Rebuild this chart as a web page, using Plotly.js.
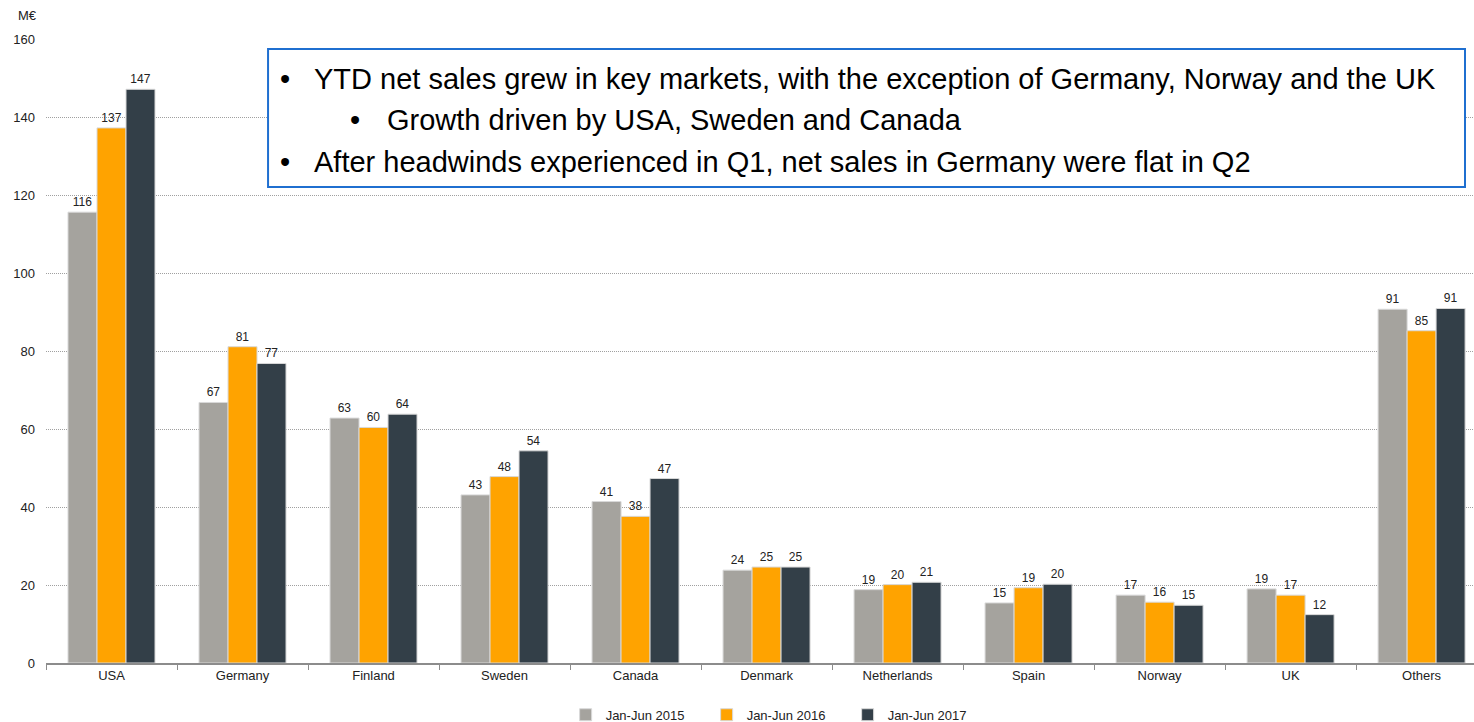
<!DOCTYPE html>
<html>
<head>
<meta charset="utf-8">
<script src="https://cdn.plot.ly/plotly-3.0.1.min.js"></script>
<style>
  body { margin: 0; background: #fff; }
  #chart { width: 1474px; height: 722px; }
</style>
</head>
<body>
<div id="chart"></div>
<script>
// markets, in the order shown
let markets = ["USA", "Germany", "Finland", "Sweden", "Canada", "Denmark", "Netherlands", "Spain", "Norway", "UK", "Others"];

// net sales, M€
let sales2015 = [115.6, 66.8, 62.8, 43.1, 41.4, 23.8, 18.8, 15.4, 17.4, 19.0, 90.7];
let sales2016 = [137.2, 81.1, 60.4, 47.8, 37.6, 24.6, 20.1, 19.3, 15.6, 17.4, 85.2];
let sales2017 = [147.1, 76.8, 63.8, 54.4, 47.3, 24.6, 20.7, 20.2, 14.8, 12.4, 90.9];

let seriesNames = ["Jan-Jun 2015", "Jan-Jun 2016", "Jan-Jun 2017"];
let seriesColors = ["#A5A39E", "#FFA300", "#333F48"];

let bullets = [
  "YTD net sales grew in key markets, with the exception of Germany, Norway and the UK",
  "Growth driven by USA, Sweden and Canada",
  "After headwinds experienced in Q1, net sales in Germany were flat in Q2"
];

let font = "Arial, 'Liberation Sans', sans-serif";

let traces = [sales2015, sales2016, sales2017].map((vals, i) => ({
  x: markets,
  y: vals,
  name: seriesNames[i],
  type: "bar",
  marker: {color: seriesColors[i], line: {color: "#d8d8d8", width: 1}},
  texttemplate: "%{y:.0f}",
  textposition: "outside",
  textfont: {size: 12, color: "#222", family: font},
  cliponaxis: false,
  hoverinfo: "none"
}));

// text box: bullet + text positions (paper coords)
let rows = [
  {bx: 0.1627, tx: 0.1863, y: 0.936, text: bullets[0]},
  {bx: 0.2115, tx: 0.2374, y: 0.870, text: bullets[1]},
  {bx: 0.1627, tx: 0.1863, y: 0.803, text: bullets[2]}
];
let notes = [];
rows.forEach(r => {
  notes.push({xref: "paper", yref: "paper", x: r.bx, y: r.y, xanchor: "left", yanchor: "middle",
    text: "•", showarrow: false, font: {size: 29, color: "#000", family: font}});
  notes.push({xref: "paper", yref: "paper", x: r.tx, y: r.y, xanchor: "left", yanchor: "middle",
    text: r.text, showarrow: false, font: {size: 29, color: "#000", family: font}});
});
notes.push({xref: "paper", yref: "paper", x: -0.021, y: 1.038, xanchor: "left", yanchor: "middle",
  text: "M€", showarrow: false, font: {size: 13, color: "#222", family: font}});

let layout = {
  width: 1474,
  height: 722,
  margin: {l: 46, r: 0, t: 39, b: 59, autoexpand: false},
  paper_bgcolor: "#fff",
  plot_bgcolor: "#fff",
  font: {family: font, size: 13, color: "#222"},
  barmode: "group",
  bargap: 0.336,
  bargroupgap: 0,
  showlegend: true,
  legend: {orientation: "h", x: 0.512, xanchor: "center", y: -0.083, yanchor: "middle",
    font: {size: 13, color: "#222"}, entrywidth: 96, itemwidth: 30, traceorder: "normal"},
  xaxis: {
    range: [-0.5, 10.4],
    showline: true, linecolor: "#8c8c8c", linewidth: 1.5,
    ticks: "outside", tickson: "boundaries", ticklen: 5, tickcolor: "#8c8c8c",
    showgrid: false, tickfont: {size: 13, color: "#222"}
  },
  yaxis: {
    range: [0, 160], dtick: 20,
    showgrid: true, gridcolor: "#a0a0a0", griddash: "1px,1px", gridwidth: 1,
    zeroline: false, showline: false, ticks: "",
    ticklabelstandoff: 10,
    tickfont: {size: 13, color: "#222"}
  },
  shapes: [{
    type: "rect", xref: "paper", yref: "paper",
    x0: 0.1555, x1: 0.9937, y0: 0.763, y1: 0.984,
    line: {color: "#1F6FD0", width: 2}, fillcolor: "#fff", layer: "above"
  }],
  annotations: notes
};

Plotly.newPlot("chart", traces, layout, {displayModeBar: false, staticPlot: true});
</script>
</body>
</html>
